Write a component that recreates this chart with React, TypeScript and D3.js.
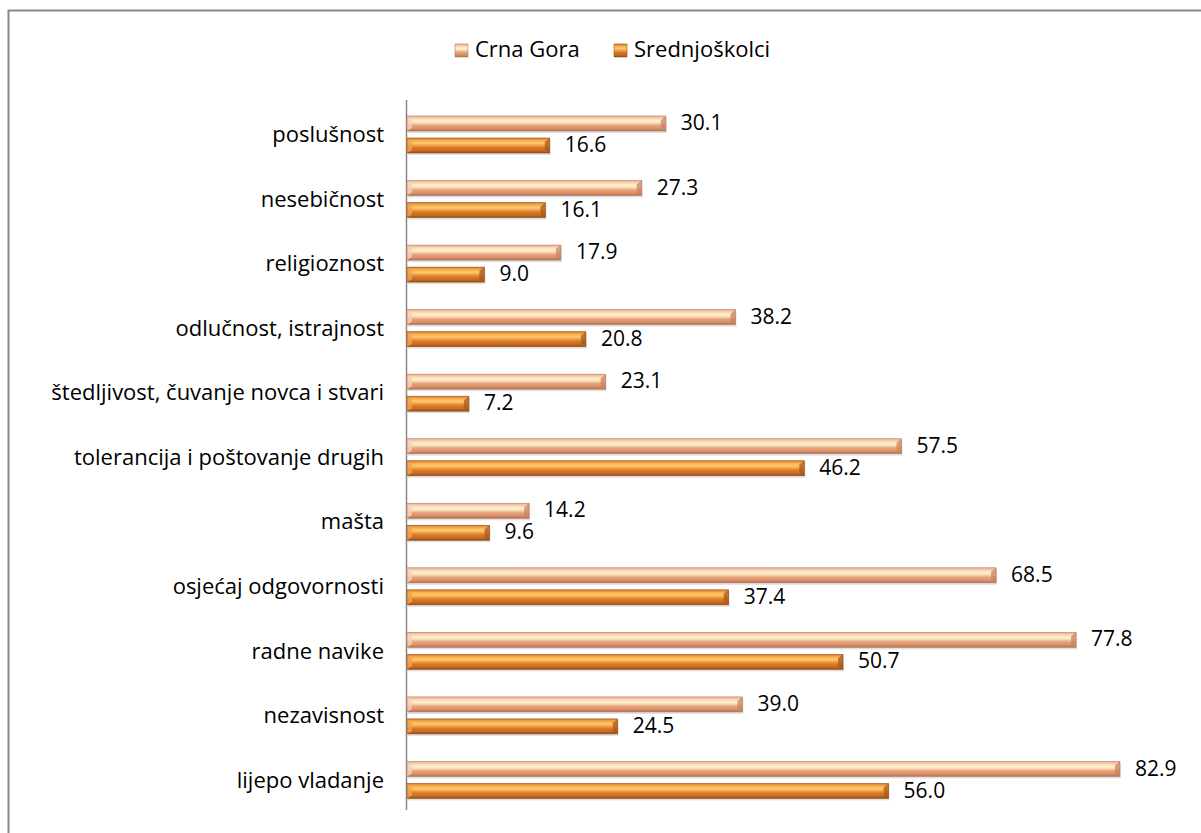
import React from "react";
import * as d3 from "d3";

const categories = [
  "poslušnost",
  "nesebičnost",
  "religioznost",
  "odlučnost, istrajnost",
  "štedljivost, čuvanje novca i stvari",
  "tolerancija i poštovanje drugih",
  "mašta",
  "osjećaj odgovornosti",
  "radne navike",
  "nezavisnost",
  "lijepo vladanje",
];
const crnaGora = [30.1, 27.3, 17.9, 38.2, 23.1, 57.5, 14.2, 68.5, 77.8, 39.0, 82.9];
const srednjoskolci = [16.6, 16.1, 9.0, 20.8, 7.2, 46.2, 9.6, 37.4, 50.7, 24.5, 56.0];
const seriesNames = ["Crna Gora", "Srednjoškolci"];

const W = 1201;
const H = 833;
const FONT = "'Open Sans', 'Noto Sans', sans-serif";

export default function App() {
  const x = d3.scaleLinear().domain([0, 90]).range([407, 407 + 774]);
  const y = d3.scaleBand<string>().domain(categories).range([100, 810]).padding(0);
  const barH = 15;
  const offs = [16, 38];
  const grads = ["gCG", "gSR"];
  const series = [crnaGora, srednjoskolci];

  const bar = (v: number, top: number, si: number, key: string) => {
    const x0 = x(0);
    const x1 = x(v);
    const endFill = si === 0 ? "#c98360" : "#a85a18";
    return (
      <g key={key}>
        <rect x={x0 + 1} y={top + 2} width={x1 - x0} height={barH} fill="#000" opacity={0.12} />
        <rect x={x0} y={top} width={x1 - x0} height={barH} fill={`url(#${grads[si]})`} />
        <polygon
          points={`${x1 - 5},${top + 4} ${x1},${top} ${x1},${top + barH} ${x1 - 5},${top + barH - 3}`}
          fill={endFill}
          opacity={0.75}
        />
        <polygon
          points={`${x0},${top} ${x0 + 5},${top + 4} ${x0 + 5},${top + barH - 3} ${x0},${top + barH}`}
          fill={si === 0 ? "#f6d0b0" : "#f0a050"}
          opacity={0.8}
        />
        <rect x={x0} y={top} width={x1 - x0} height={barH} fill="none" stroke={si === 0 ? "#b87c60" : "#9a5418"} strokeWidth={0.6} />
        <text
          x={x1 + 15}
          y={top + barH / 2 + 1}
          dominantBaseline="middle"
          fontSize={21}
          fontFamily={FONT}
          fill="#000"
        >
          {v.toFixed(1)}
        </text>
      </g>
    );
  };

  return (
    <svg
      width={W}
      height={H}
      style={{ position: "absolute", left: 0, top: 0, background: "#fff" }}
    >
      <defs>
        <linearGradient id="gCG" x1="0" y1="0" x2="0" y2="1">
          <stop offset="0" stopColor="#e8ac90" />
          <stop offset="0.18" stopColor="#fad8b8" />
          <stop offset="0.35" stopColor="#fff2d2" />
          <stop offset="0.5" stopColor="#f6d2a8" />
          <stop offset="0.62" stopColor="#e8a47e" />
          <stop offset="0.85" stopColor="#d88e68" />
          <stop offset="1" stopColor="#a86e54" />
        </linearGradient>
        <linearGradient id="gSR" x1="0" y1="0" x2="0" y2="1">
          <stop offset="0" stopColor="#d87a2c" />
          <stop offset="0.18" stopColor="#f8b050" />
          <stop offset="0.35" stopColor="#ffc870" />
          <stop offset="0.5" stopColor="#f0a040" />
          <stop offset="0.65" stopColor="#d8782a" />
          <stop offset="0.85" stopColor="#c86a22" />
          <stop offset="1" stopColor="#8a4a14" />
        </linearGradient>
      </defs>
      <rect x={8.5} y={10.5} width={1200} height={830} fill="#fff" stroke="#888" strokeWidth={2} />

      {/* legend */}
      {seriesNames.map((name, i) => {
        const lx = i === 0 ? 455 : 614;
        return (
          <g key={name}>
            <rect x={lx} y={44} width={13} height={13} fill={`url(#${grads[i]})`} stroke={i === 0 ? "#b87c60" : "#9a5418"} strokeWidth={0.6} />
            <text x={lx + 20} y={51} dominantBaseline="middle" fontSize={22} fontFamily={FONT} fill="#000">
              {name}
            </text>
          </g>
        );
      })}

      {/* axis */}
      <line x1={406.5} x2={406.5} y1={100} y2={810} stroke="#888" strokeWidth={1.5} />

      {categories.map((c, ci) => {
        const b = y(c)!;
        return (
          <g key={c}>
            <text
              x={384}
              y={b + y.bandwidth() / 2 + 4}
              textAnchor="end"
              dominantBaseline="middle"
              fontSize={22}
              fontFamily={FONT}
              fill="#000"
            >
              {c}
            </text>
            {series.map((s, si) => bar(s[ci], b + offs[si], si, `${c}-${si}`))}
          </g>
        );
      })}
    </svg>
  );
}
